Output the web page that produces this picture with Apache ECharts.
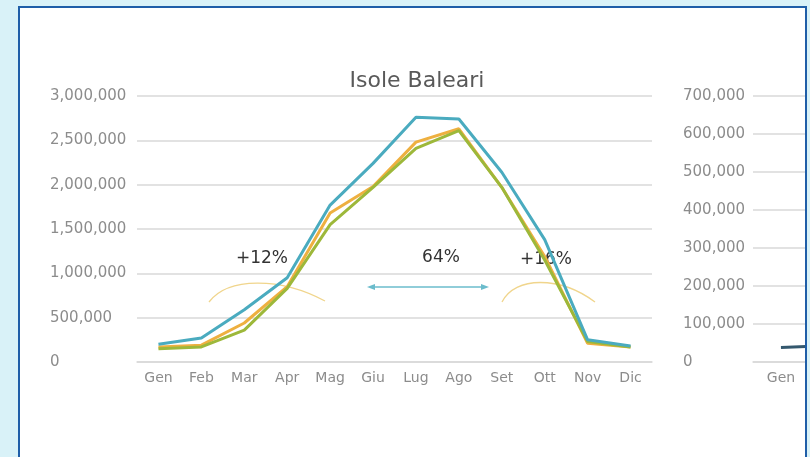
<!DOCTYPE html>
<html>
<head>
<meta charset="utf-8">
<script src="https://cdn.jsdelivr.net/npm/echarts@6/dist/echarts.min.js"></script>
<style>
  html, body { margin: 0; padding: 0; width: 810px; height: 457px; overflow: hidden; background: #d9f2f8; }
  #panel { position: absolute; left: 18px; top: 6px; width: 785px; height: 470px; border: 2px solid #1f5ea8; background: #ffffff; overflow: hidden; }
  #chart { position: absolute; left: -20px; top: -8px; width: 810px; height: 457px; }
  #chart2 { position: absolute; left: 660px; top: -8px; width: 800px; height: 457px; }
</style>
</head>
<body>
<div id="panel"><div id="chart"></div><div id="chart2"></div></div>
<script>
// ---- Data ----
const months = ['Gen', 'Feb', 'Mar', 'Apr', 'Mag', 'Giu', 'Lug', 'Ago', 'Set', 'Ott', 'Nov', 'Dic'];
const seriesTeal   = [200000, 270000, 590000, 950000, 1770000, 2240000, 2760000, 2740000, 2140000, 1380000, 250000, 180000];
const seriesOrange = [170000, 190000, 440000, 850000, 1680000, 1980000, 2480000, 2630000, 1970000, 1190000, 210000, 170000];
const seriesGreen  = [150000, 170000, 360000, 830000, 1550000, 1970000, 2410000, 2610000, 1970000, 1150000, 230000, 170000];
const leftTicks  = { min: 0, max: 3000000, interval: 500000 };
const rightTicks = { min: 0, max: 700000, interval: 100000 };
const rightSeries = [38000, 44000];
const annotations = [
  { text: '+12%', x: 262, y: 259 },
  { text: '64%',  x: 441, y: 258 },
  { text: '+16%', x: 546, y: 260 }
];

const fmt = v => Number(v).toLocaleString('en-US');
const labelFont = 'DejaVu Sans';
const gridColor = '#d9d9d9';
const labelColor = '#8c8c8c';

function catAxis() {
  return {
    type: 'category', data: months, boundaryGap: true,
    axisLine: { lineStyle: { color: gridColor, width: 1.5 } },
    axisTick: { show: false },
    axisLabel: { color: labelColor, fontFamily: labelFont, fontSize: 14, margin: 9, interval: 0 }
  };
}
function valAxis(t, margin) {
  return {
    type: 'value', min: t.min, max: t.max, interval: t.interval,
    axisLine: { show: false }, axisTick: { show: false },
    splitLine: { lineStyle: { color: gridColor, width: 1.5 } },
    axisLabel: { color: labelColor, fontFamily: labelFont, fontSize: 15, align: 'left', margin: margin, formatter: fmt }
  };
}

const chart = echarts.init(document.getElementById('chart'), null, { renderer: 'canvas' });
chart.setOption({
  animation: false,
  title: {
    text: 'Isole Baleari',
    left: 412, top: 65, textAlign: 'center',
    textStyle: { fontFamily: labelFont, fontSize: 22, fontWeight: 'normal', color: '#595959' }
  },
  grid: { left: 137, top: 96, width: 515, height: 266 },
  xAxis: catAxis(),
  yAxis: valAxis(leftTicks, 87),
  series: [
    { name: 'Serie arancione', type: 'line', data: seriesOrange, showSymbol: false,
      lineStyle: { color: '#eeb040', width: 3 }, itemStyle: { color: '#eeb040' } },
    { name: 'Serie verde', type: 'line', data: seriesGreen, showSymbol: false,
      lineStyle: { color: '#9db83a', width: 3 }, itemStyle: { color: '#9db83a' } },
    { name: 'Serie azzurra', type: 'line', data: seriesTeal, showSymbol: false,
      lineStyle: { color: '#4aabbf', width: 3 }, itemStyle: { color: '#4aabbf' } }
  ],
  graphic: [
    { type: 'bezierCurve', silent: true,
      shape: { x1: 209, y1: 302, cpx1: 228, cpy1: 277, cpx2: 280, cpy2: 277, x2: 325, y2: 301 },
      style: { stroke: '#f0d58c', lineWidth: 1.3, fill: null } },
    { type: 'bezierCurve', silent: true,
      shape: { x1: 502, y1: 302, cpx1: 515, cpy1: 276, cpx2: 560, cpy2: 276, x2: 595, y2: 302 },
      style: { stroke: '#f0d58c', lineWidth: 1.3, fill: null } },
    { type: 'line', silent: true, shape: { x1: 372, y1: 287, x2: 484, y2: 287 },
      style: { stroke: '#6bbccc', lineWidth: 1.6 } },
    { type: 'polygon', silent: true, shape: { points: [[367, 287], [375, 284], [375, 290]] },
      style: { fill: '#6bbccc' } },
    { type: 'polygon', silent: true, shape: { points: [[489, 287], [481, 284], [481, 290]] },
      style: { fill: '#6bbccc' } }
  ].concat(annotations.map(a => ({
    type: 'text', silent: true, x: a.x, y: a.y,
    style: { text: a.text, fontFamily: labelFont, fontSize: 17, fill: '#333333', align: 'center', verticalAlign: 'middle' }
  })))
});

const chart2 = echarts.init(document.getElementById('chart2'), null, { renderer: 'canvas' });
chart2.setOption({
  animation: false,
  grid: { left: 72, top: 96, width: 672, height: 266 },
  xAxis: catAxis(),
  yAxis: valAxis(rightTicks, 70),
  series: [
    { name: 'Serie destra', type: 'line', data: rightSeries, showSymbol: false,
      lineStyle: { color: '#34586e', width: 3 }, itemStyle: { color: '#34586e' } }
  ]
});
</script>
</body>
</html>
